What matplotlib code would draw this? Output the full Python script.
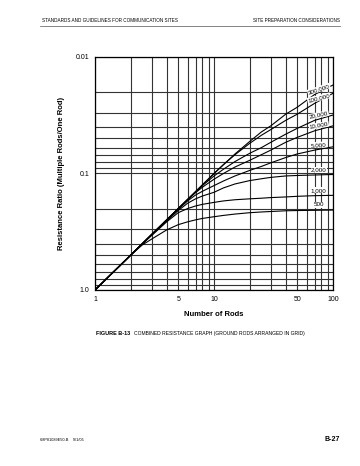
import matplotlib
matplotlib.use("Agg")
import matplotlib.pyplot as plt
from matplotlib.ticker import FixedLocator, NullFormatter, LogLocator

plt.rcParams['font.family'] = ['Liberation Sans', 'DejaVu Sans']

# number of rods where the curves were read
rods = [1, 2, 2.5, 3, 4, 5, 6, 7, 8, 10, 12, 15, 20, 25, 30, 40, 50, 70, 100]

# resistance ratio (multiple rods / one rod), one list per grid area
r_500    = [1.0, 0.5, 0.41, 0.365, 0.305, 0.275, 0.26, 0.25, 0.243, 0.235, 0.229,
            0.223, 0.217, 0.214, 0.212, 0.209, 0.208, 0.207, 0.206]
r_1000   = [1.0, 0.5, 0.402, 0.34, 0.26, 0.217, 0.2, 0.19, 0.184, 0.177, 0.172,
            0.168, 0.165, 0.163, 0.161, 0.159, 0.157, 0.155, 0.154]
r_2000   = [1.0, 0.5, 0.4, 0.335, 0.255, 0.208, 0.18, 0.165, 0.156, 0.145, 0.133,
            0.123, 0.115, 0.111, 0.108, 0.105, 0.104, 0.103, 0.102]
r_5000   = [1.0, 0.5, 0.4, 0.334, 0.252, 0.203, 0.172, 0.153, 0.142, 0.127, 0.116,
            0.105, 0.094, 0.087, 0.081, 0.073, 0.068, 0.063, 0.059]
r_10000  = [1.0, 0.5, 0.4, 0.333, 0.25, 0.201, 0.168, 0.146, 0.131, 0.112, 0.1,
            0.088, 0.077, 0.069, 0.063, 0.054, 0.049, 0.043, 0.039]
r_20000  = [1.0, 0.5, 0.4, 0.333, 0.25, 0.2, 0.167, 0.144, 0.127, 0.105, 0.092,
            0.079, 0.067, 0.06, 0.054, 0.046, 0.041, 0.035, 0.0315]
r_100000 = [1.0, 0.5, 0.4, 0.333, 0.25, 0.2, 0.167, 0.143, 0.125, 0.1, 0.084,
            0.069, 0.055, 0.047, 0.042, 0.035, 0.031, 0.025, 0.0205]
r_300000 = [1.0, 0.5, 0.4, 0.333, 0.25, 0.2, 0.167, 0.143, 0.125, 0.1, 0.084,
            0.068, 0.053, 0.044, 0.039, 0.031, 0.027, 0.021, 0.0174]

curves = [("500", r_500, 0), ("1,000", r_1000, 0), ("2,000", r_2000, 0),
          ("5,000", r_5000, 4), ("10,000", r_10000, 10), ("20,000", r_20000, 12),
          ("100,000", r_100000, 14), ("300,000", r_300000, 18)]

x_ticks = [1, 5, 10, 50, 100]
x_ticklabels = ["1", "5", "10", "50", "100"]
y_ticks = [0.01, 0.1, 1.0]
y_ticklabels = ["0.01", "0.1", "1.0"]

fig = plt.figure(figsize=(3.6, 4.66), dpi=100)
ax = fig.add_axes([0.264, 0.3777, 0.661, 0.5])
ax.set_xscale('log')
ax.set_yscale('log')
ax.set_xlim(1, 100)
ax.set_ylim(1.0, 0.01)   # inverted: 0.01 on top

ax.xaxis.set_major_locator(FixedLocator(x_ticks))
ax.xaxis.set_minor_locator(LogLocator(base=10, subs=range(2, 10)))
ax.xaxis.set_minor_formatter(NullFormatter())
ax.set_xticklabels(x_ticklabels)
ax.yaxis.set_major_locator(FixedLocator(y_ticks))
ax.yaxis.set_minor_locator(LogLocator(base=10, subs=range(2, 10)))
ax.yaxis.set_minor_formatter(NullFormatter())
ax.set_yticklabels(y_ticklabels)

ax.grid(which='both', color='#333333', linewidth=0.8)
ax.tick_params(which='both', length=0, labelsize=5, pad=4)
for s in ax.spines.values():
    s.set_linewidth(0.9)

for name, vals, rot in curves:
    ax.plot(rods, vals, color='black', linewidth=0.8)
    ax.text(76, vals[-2] * 0.9, name, fontsize=4.5, ha='center', va='center',
            rotation=rot,
            bbox=dict(facecolor='white', edgecolor='none', pad=0.3))

ax.set_xlabel("Number of Rods", fontsize=5.5, fontweight='bold', labelpad=6)
ax.set_ylabel("Resistance Ratio (Multiple Rods/One Rod)", fontsize=5.5,
              fontweight='bold', labelpad=8)

# page header / caption / footer
fig.text(0.117, 0.955, "STANDARDS AND GUIDELINES FOR COMMUNICATION SITES", fontsize=3.3,
         ha='left', va='center')
fig.text(0.945, 0.955, "SITE PREPARATION CONSIDERATIONS", fontsize=3.3,
         ha='right', va='center')
fig.add_artist(plt.Line2D([0.11, 0.945], [0.945, 0.945], color='#555555', linewidth=0.5))

fig.text(0.362, 0.285, "FIGURE B-13", fontsize=4, fontweight='bold', ha='right', va='center')
fig.text(0.372, 0.285, "COMBINED RESISTANCE GRAPH (GROUND RODS ARRANGED IN GRID)",
         fontsize=3.6, ha='left', va='center')

fig.text(0.11, 0.056, "68P81089E50-B    9/1/05", fontsize=2.8, ha='left', va='center')
fig.text(0.945, 0.056, "B-27", fontsize=5, fontweight='bold', ha='right', va='center')

fig.savefig("out.png", dpi=100)
